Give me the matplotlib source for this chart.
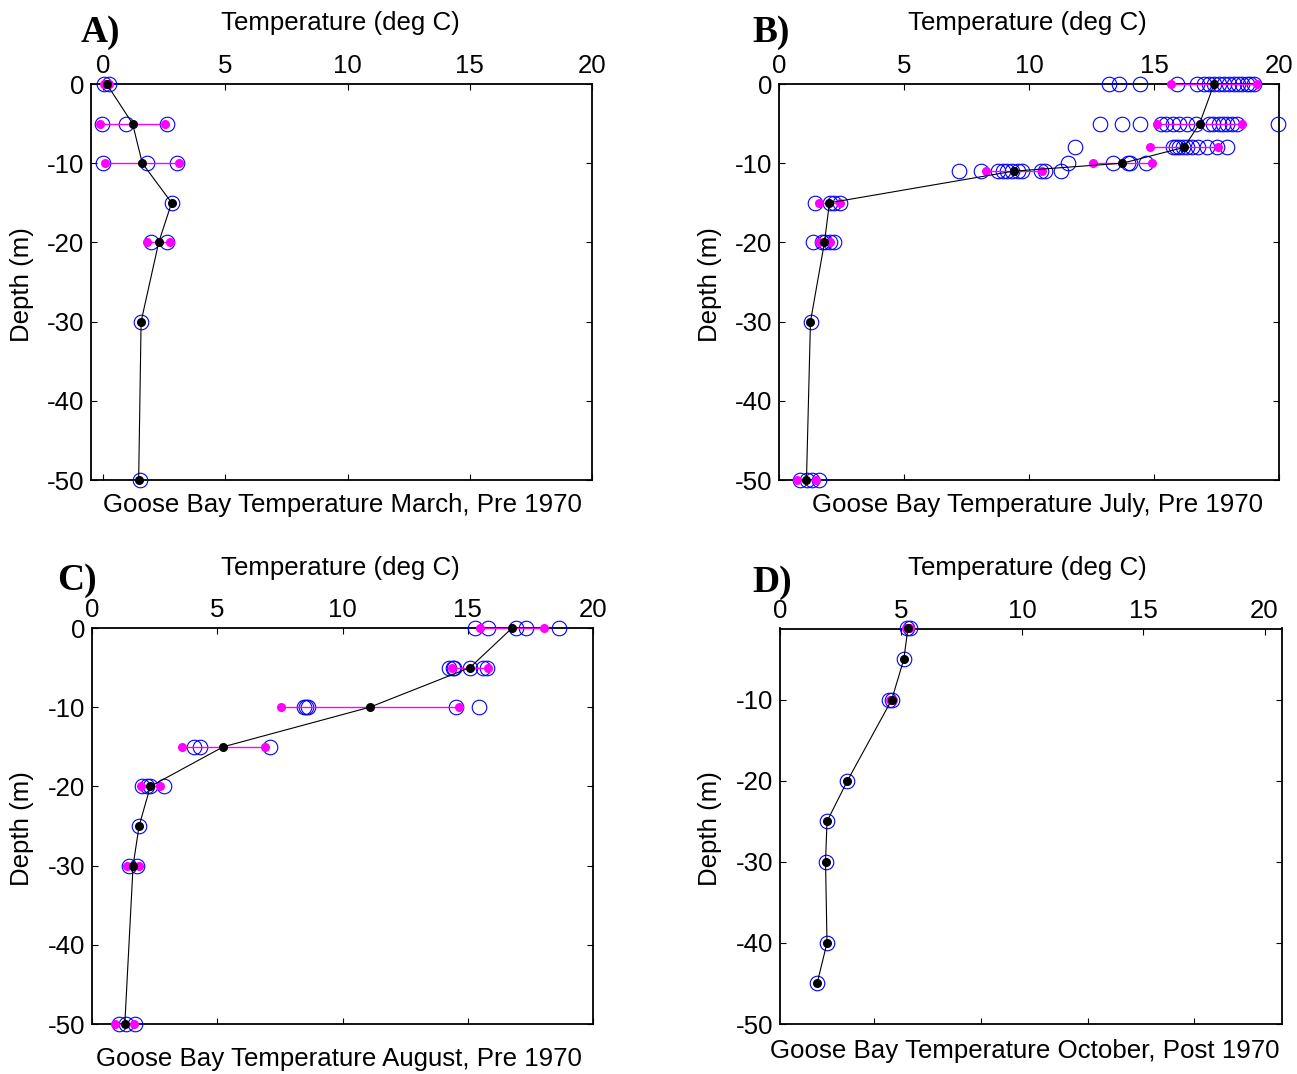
import matplotlib
matplotlib.use("Agg")
import matplotlib.pyplot as plt
import numpy as np

plt.rcParams['font.family'] = ['Liberation Sans', 'DejaVu Sans']

W, H = 1297, 1074

# ---------------- data ----------------
# Panel A : March, Pre 1970
a_depths = [0, -5, -10, -15, -20, -30, -50]
a_means = [0.14, 1.2, 1.6, 2.8, 2.27, 1.55, 1.45]
a_stds = [0.1, 1.33, 1.52, 0, 0.47, 0, 0]
a_obs = [[0.05, 0.22], [-0.03, 0.93, 2.6], [-0.02, 1.8, 3.0], [2.8],
         [1.94, 2.6], [1.55], [1.5]]

# Panel B : July, Pre 1970
b_depths = [0, -5, -8, -10, -11, -15, -20, -30, -50]
b_means = [17.4, 16.82, 16.2, 13.73, 9.38, 2.0, 1.8, 1.24, 1.08]
b_stds = [1.73, 1.7, 1.37, 1.19, 1.12, 0.43, 0.23, 0, 0.38]
b_obs = [[13.2, 13.6, 14.45, 15.9, 16.7, 17.0, 17.2, 17.4, 17.6, 17.8, 18.0,
          18.2, 18.35, 18.5, 18.7, 18.85, 19.0],
         [12.84, 13.72, 14.45, 15.28, 15.48, 15.74, 16.0, 16.3, 16.68, 17.2,
          17.37, 17.58, 17.75, 17.92, 18.1, 18.3, 19.96],
         [11.85, 15.76, 15.88, 16.0, 16.14, 16.3, 16.5, 16.75, 17.1, 17.5, 17.93],
         [11.56, 13.36, 13.95, 14.02, 14.67],
         [7.18, 8.05, 8.74, 8.95, 9.12, 9.32, 9.55, 9.7, 10.46, 10.62, 11.27],
         [1.43, 2.03, 2.17, 2.43],
         [1.36, 1.7, 1.83, 2.03, 2.17],
         [1.26],
         [0.83, 1.1, 1.3, 1.57]]

# Panel C : August, Pre 1970
c_depths = [0, -5, -10, -15, -20, -25, -30, -50]
c_means = [16.77, 15.09, 11.09, 5.24, 2.33, 1.88, 1.64, 1.31]
c_stds = [1.28, 0.7, 3.55, 1.65, 0.37, 0, 0.23, 0.38]
c_obs = [[15.27, 15.8, 16.93, 17.31, 18.63],
         [14.27, 14.4, 14.47, 15.07, 15.6, 15.77],
         [8.45, 8.55, 8.62, 14.53, 15.43],
         [4.09, 4.33, 7.09],
         [2.0, 2.2, 2.33, 2.87],
         [1.88],
         [1.47, 1.8],
         [1.07, 1.37, 1.73]]

# Panel D : October, Post 1970
d_depths = [-1.2, -5, -10, -20, -25, -30, -40, -45]
d_means = [5.28, 5.11, 4.61, 2.78, 1.94, 1.88, 1.94, 1.53]
d_stds = [0.08, 0, 0.07, 0, 0, 0, 0, 0]
d_obs = [[5.24, 5.35], [5.11], [4.51, 4.61], [2.78], [1.94], [1.88],
         [1.94], [1.53]]

panel_letters = ['A)', 'B)', 'C)', 'D)']
panel_titles = ['Goose Bay Temperature March, Pre 1970',
                'Goose Bay Temperature July, Pre 1970',
                'Goose Bay Temperature August, Pre 1970',
                'Goose Bay Temperature October, Post 1970']
x_ticks = [0, 5, 10, 15, 20]
y_ticks_full = [0, -10, -20, -30, -40, -50]
y_ticks_d = [-10, -20, -30, -40, -50]

# ---------------- layout helpers ----------------
fig = plt.figure(figsize=(W / 100, H / 100), dpi=100)


def add_axes_px(left, top, right, bottom):
    return fig.add_axes([left / W, 1 - bottom / H, (right - left) / W, (bottom - top) / H])


def ftext(x, y, s, **kw):
    fig.text(x / W, 1 - y / H, s, **kw)


FS = 18.6


def style_axes(ax, yticks):
    ax.set_xticks(x_ticks)
    ax.set_yticks(yticks)
    ax.set_yticklabels([str(v) for v in yticks])
    ax.xaxis.tick_top()
    ax.tick_params(axis='both', direction='in', length=4.5, width=0.8,
                   labelsize=FS, top=True, bottom=True, left=True, right=True,
                   labeltop=True, labelbottom=False, labelleft=True, labelright=False)
    ax.tick_params(axis='x', pad=4)
    ax.tick_params(axis='y', pad=5)
    for sp in ax.spines.values():
        sp.set_linewidth(1.3)


def draw_panel(ax, depths, means, stds, obs, xlim, ylim, yticks):
    for d, vals in zip(depths, obs):
        ax.plot(vals, [d] * len(vals), linestyle='none', marker='o', ms=10.5,
                mfc='none', mec='#0000ff', mew=0.8, clip_on=False, zorder=3)
    for d, m, s in zip(depths, means, stds):
        if s > 0:
            ax.plot([m - s, m + s], [d, d], color='#ff00ff', lw=1.0,
                    marker='o', ms=5.5, mfc='#ff00ff', mec='#ff00ff',
                    clip_on=False, zorder=4)
    ax.plot(means, depths, color='black', lw=0.8, marker='o', ms=5.5,
            mfc='black', mec='black', clip_on=False, zorder=5)
    ax.set_xlim(*xlim)
    ax.set_ylim(*ylim)
    style_axes(ax, yticks)


axA = add_axes_px(91, 84, 592, 480)
draw_panel(axA, a_depths, a_means, a_stds, a_obs, (-0.5, 20), (-50, 0), y_ticks_full)

axB = add_axes_px(779.5, 84, 1279, 480)
draw_panel(axB, b_depths, b_means, b_stds, b_obs, (0, 20), (-50, 0), y_ticks_full)

axC = add_axes_px(92, 628, 593, 1024)
draw_panel(axC, c_depths, c_means, c_stds, c_obs, (0, 20), (-50, 0), y_ticks_full)

axD = add_axes_px(780, 628.5, 1281.5, 1024)
axD2 = axD.twiny()
draw_panel(axD, d_depths, d_means, d_stds, d_obs, (0, 20.7), (-50, -1.2), y_ticks_d)
axD.tick_params(axis='x', bottom=False, labelbottom=False, top=True, labeltop=True)
axD2.set_xlim(0.59, 24.09)
axD2.set_xticks([5, 10, 15, 20])
axD2.xaxis.set_ticks_position('bottom')
axD2.tick_params(axis='x', direction='in', length=4.5, width=0.8,
                 labelbottom=False, labeltop=False, top=False, bottom=True)
for sp in axD2.spines.values():
    sp.set_visible(False)
axD2.set_zorder(axD.get_zorder() - 1)
axD.patch.set_visible(False)

# labels
xl_pos = [(340, 23), (1027, 23), (340, 568), (1027, 568)]
yl_pos = [(22, 285), (710, 285), (22, 829), (710, 829)]
tt_pos = [(342, 505), (1037, 505), (339, 1059), (1025, 1051)]
lt_pos = [(100, 33), (771, 33), (77, 581), (772, 583)]
for i in range(4):
    ftext(*xl_pos[i], 'Temperature (deg C)', fontsize=FS, ha='center', va='center')
    ftext(*yl_pos[i], 'Depth (m)', fontsize=FS, ha='center', va='center', rotation=90)
    ftext(*tt_pos[i], panel_titles[i], fontsize=FS, ha='center', va='center')
    ftext(*lt_pos[i], panel_letters[i], fontsize=27, ha='center', va='center',
          family=['Liberation Serif', 'DejaVu Serif'], weight='bold')

fig.savefig('out.png', dpi=100, facecolor='white')
